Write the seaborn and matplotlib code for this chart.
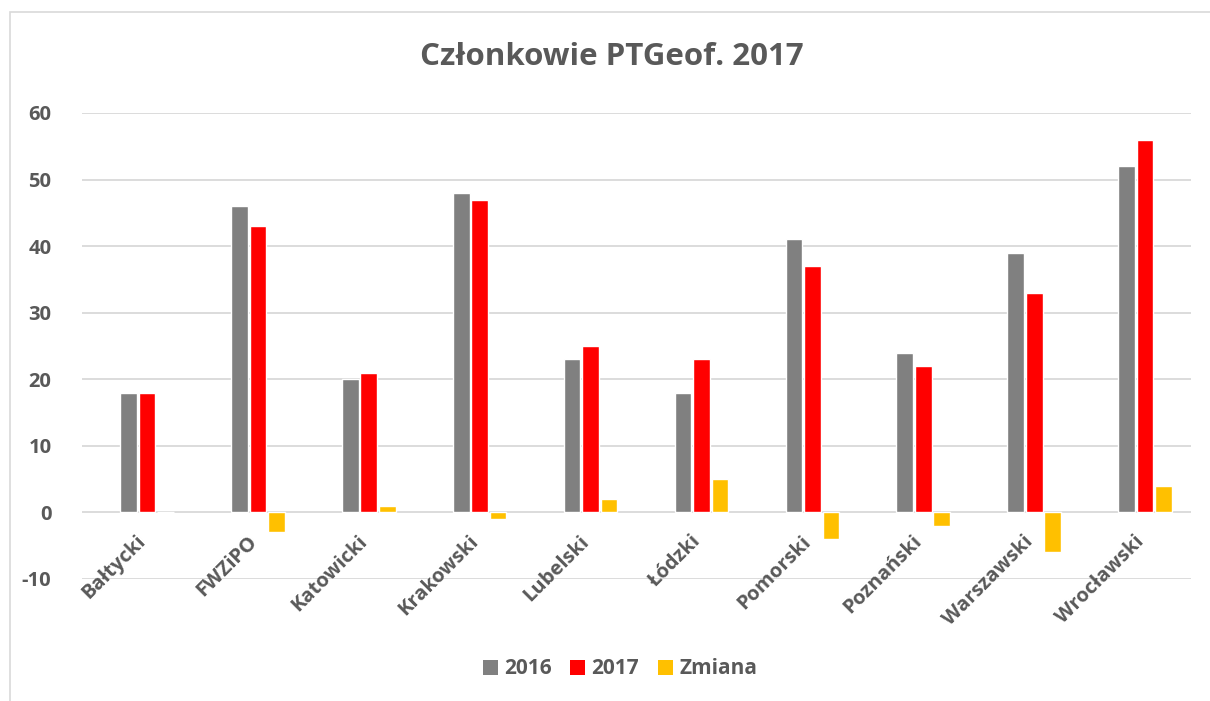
import matplotlib
matplotlib.use("Agg")
import matplotlib.pyplot as plt
import matplotlib.transforms as mtransforms
from matplotlib.patches import Patch, Rectangle
import seaborn as sns
import pandas as pd

# dane
oddzialy = ["Bałtycki", "FWZiPO", "Katowicki", "Krakowski", "Lubelski",
            "Łódzki", "Pomorski", "Poznański", "Warszawski", "Wrocławski"]
czlonkowie_2016 = [18, 46, 20, 48, 23, 18, 41, 24, 39, 52]
czlonkowie_2017 = [18, 43, 21, 47, 25, 23, 37, 22, 33, 56]
zmiana = [0, -3, 1, -1, 2, 5, -4, -2, -6, 4]
serie = ["2016", "2017", "Zmiana"]
kolory = ["#808080", "#ff0000", "#ffc000"]
y_ticks = [-10, 0, 10, 20, 30, 40, 50, 60]

df = pd.DataFrame({
    "oddzial": oddzialy * 3,
    "seria": [s for s in serie for _ in oddzialy],
    "wartosc": czlonkowie_2016 + czlonkowie_2017 + zmiana,
})

sns.set_theme(style="white")
plt.rcParams['font.family'] = ['Open Sans', 'DejaVu Sans']
tekst = "#595959"

fig = plt.figure(figsize=(12.1, 7.01), dpi=100)
ax = fig.add_axes([82 / 1210, 1 - 579 / 701, 1109 / 1210, 466 / 701])

sns.barplot(data=df, x="oddzial", y="wartosc", hue="seria", palette=kolory,
            width=0.5, gap=0.1, ax=ax, legend=False, saturation=1)

ax.set_ylim(-10, 60)
ax.set_xlim(-0.586, 9.414)
ax.set_yticks(y_ticks)
ax.set_yticklabels([str(v) for v in y_ticks], fontsize=14.5, fontweight="bold", color=tekst)
ax.tick_params(axis="y", length=0, pad=22)
ax.set_xticks([])
ax.set_xlabel("")
ax.set_ylabel("")
for s in ax.spines.values():
    s.set_visible(False)
ax.grid(axis="y", color="#d9d9d9", linewidth=1.3)
ax.set_axisbelow(True)

# etykiety kategorii przy linii zera (jak w Excelu)
off = mtransforms.ScaledTranslation(-3 / 72, -19 / 72, fig.dpi_scale_trans)
for i, nazwa in enumerate(oddzialy):
    ax.text(i, 0, nazwa, rotation=45, rotation_mode="anchor", ha="right", va="center",
            fontsize=14.5, fontweight="bold", color=tekst, transform=ax.transData + off)

fig.text(612 / 1210, 1 - 57 / 701, "Członkowie PTGeof. 2017", ha="center", va="center",
         fontsize=22.5, fontweight="bold", color=tekst)

uchwyty = [Patch(facecolor=k, edgecolor="none", label=s) for k, s in zip(kolory, serie)]
leg = fig.legend(handles=uchwyty, loc="center", bbox_to_anchor=(620 / 1210, 1 - 669 / 701),
                 ncol=3, frameon=False, handlelength=0.72, handleheight=0.72,
                 handletextpad=0.3, columnspacing=0.9, prop={"size": 15, "weight": "bold"})
for t in leg.get_texts():
    t.set_color(tekst)

fig.patches.append(Rectangle((10 / 1210, -0.05), 1.2, 1 - 12 / 701 + 0.05,
                             transform=fig.transFigure, fill=False,
                             edgecolor="#d9d9d9", linewidth=1.2))

fig.savefig("out.png", dpi=100)
